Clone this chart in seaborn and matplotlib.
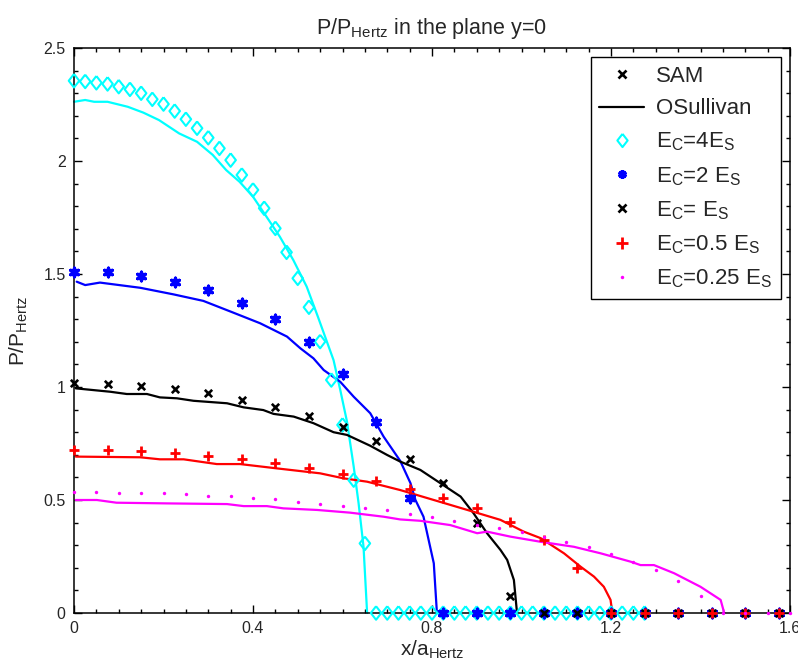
import numpy as np
import pandas as pd
import matplotlib
matplotlib.use("Agg")
import matplotlib.pyplot as plt
import seaborn as sns
from matplotlib.lines import Line2D
from matplotlib.ticker import MultipleLocator

# ---------------- data ----------------
# SAM results (markers)
sam_x_4 = [round(0.025 * i, 3) for i in range(52)]          # 0 .. 1.275
sam_y_4 = [2.355, 2.352, 2.346, 2.341, 2.329, 2.317, 2.300, 2.273, 2.252, 2.221,
           2.185, 2.145, 2.103, 2.056, 2.004, 1.938, 1.872, 1.791, 1.702, 1.596,
           1.481, 1.353, 1.201, 1.031, 0.832, 0.588, 0.308] + [0.0] * 25

sam_x_075 = [round(0.075 * i, 3) for i in range(22)]        # 0 .. 1.575
sam_y_2 = [1.510, 1.507, 1.491, 1.466, 1.429, 1.373, 1.300, 1.201, 1.058, 0.844,
           0.509] + [0.0] * 11
sam_y_1 = [1.016, 1.013, 1.004, 0.990, 0.972, 0.942, 0.913, 0.872, 0.822, 0.761,
           0.681, 0.575, 0.400, 0.075] + [0.0] * 8
sam_y_05 = [0.721, 0.721, 0.717, 0.707, 0.695, 0.680, 0.662, 0.643, 0.614, 0.584,
            0.548, 0.510, 0.463, 0.401, 0.323, 0.198] + [0.0] * 6

sam_x_025 = [round(0.05 * i, 3) for i in range(33)]         # 0 .. 1.6
sam_y_025 = [0.537, 0.534, 0.532, 0.532, 0.530, 0.525, 0.519, 0.518, 0.510, 0.503,
             0.493, 0.482, 0.475, 0.463, 0.456, 0.437, 0.423, 0.407, 0.389, 0.375,
             0.357, 0.338, 0.313, 0.291, 0.262, 0.227, 0.190, 0.142, 0.075,
             0.0, 0.0, 0.0, 0.0]

# O'Sullivan solution (lines)
os_x_4 = [0.0, 0.025, 0.045, 0.075, 0.12, 0.155, 0.19, 0.235, 0.275, 0.31, 0.34, 0.37,
          0.40, 0.43, 0.46, 0.49, 0.52, 0.545, 0.58, 0.595, 0.61, 0.625, 0.636, 0.647,
          0.651, 0.655]
os_y_4 = [2.262, 2.270, 2.262, 2.262, 2.240, 2.214, 2.181, 2.122, 2.085, 2.027, 1.960,
          1.908, 1.842, 1.754, 1.665, 1.562, 1.444, 1.311, 1.119, 0.987, 0.847, 0.648,
          0.485, 0.293, 0.146, 0.0]

os_x_2 = [0.006, 0.025, 0.058, 0.148, 0.222, 0.289, 0.356, 0.416, 0.476, 0.506, 0.535,
          0.558, 0.595, 0.625, 0.662, 0.692, 0.729, 0.752, 0.763, 0.781, 0.804, 0.811]
os_y_2 = [1.466, 1.451, 1.462, 1.439, 1.410, 1.381, 1.329, 1.282, 1.223, 1.171, 1.127,
          1.075, 1.023, 0.957, 0.884, 0.780, 0.673, 0.574, 0.50, 0.426, 0.220, 0.0]

os_x_1 = [0.004, 0.081, 0.118, 0.163, 0.192, 0.230, 0.267, 0.342, 0.379, 0.423, 0.446,
          0.491, 0.535, 0.580, 0.610, 0.662, 0.700, 0.729, 0.774, 0.819, 0.864, 0.893,
          0.923, 0.953, 0.968, 0.983, 0.990]
os_y_1 = [0.994, 0.979, 0.969, 0.969, 0.954, 0.950, 0.939, 0.928, 0.910, 0.898, 0.881,
          0.869, 0.840, 0.800, 0.788, 0.740, 0.699, 0.670, 0.633, 0.574, 0.515, 0.441,
          0.353, 0.279, 0.235, 0.146, 0.0]

os_x_05 = [0.004, 0.148, 0.192, 0.245, 0.319, 0.371, 0.453, 0.550, 0.602, 0.655, 0.729,
           0.804, 0.879, 0.953, 1.005, 1.043, 1.095, 1.132, 1.162, 1.184, 1.199, 1.203]
os_y_05 = [0.692, 0.689, 0.680, 0.680, 0.659, 0.659, 0.640, 0.618, 0.596, 0.581, 0.544,
           0.500, 0.456, 0.412, 0.360, 0.331, 0.264, 0.205, 0.161, 0.116, 0.058, 0.0]

os_x_025 = [0.004, 0.051, 0.095, 0.207, 0.342, 0.379, 0.431, 0.468, 0.543, 0.617, 0.692,
            0.729, 0.774, 0.841, 0.901, 0.923, 0.975, 1.043, 1.117, 1.177, 1.244, 1.266,
            1.296, 1.341, 1.400, 1.445, 1.453]
os_y_025 = [0.500, 0.500, 0.488, 0.485, 0.482, 0.473, 0.473, 0.463, 0.456, 0.444, 0.426,
            0.414, 0.408, 0.389, 0.353, 0.360, 0.338, 0.315, 0.293, 0.264, 0.227, 0.212,
            0.212, 0.176, 0.116, 0.058, 0.0]

labels = [r"$\mathregular{E_C}$=4E$_\mathregular{S}$",
          r"$\mathregular{E_C}$=2 E$_\mathregular{S}$",
          r"$\mathregular{E_C}$= E$_\mathregular{S}$",
          r"$\mathregular{E_C}$=0.5 E$_\mathregular{S}$",
          r"$\mathregular{E_C}$=0.25 E$_\mathregular{S}$"]
colors = ["#00FFFF", "#0000FF", "#000000", "#FF0000", "#FF00FF"]

# ---------------- style ----------------
sns.set_style("white")
plt.rcParams["font.family"] = ["Liberation Sans", "DejaVu Sans"]
plt.rcParams["mathtext.fontset"] = "custom"
plt.rcParams["mathtext.rm"] = "Liberation Sans"
plt.rcParams["mathtext.it"] = "Liberation Sans:italic"
plt.rcParams["mathtext.bf"] = "Liberation Sans:bold"

fig = plt.figure(figsize=(7.98, 6.66), dpi=100)
ax = fig.add_axes([74 / 798, 1 - 613 / 666, (790 - 74) / 798, (613 - 48) / 666])

diamond = [(0, 1), (0.78, 0), (0, -1), (-0.78, 0), (0, 1)]
asterisk = (6, 2, 0)

# lines
line_sets = [(os_x_4, os_y_4), (os_x_2, os_y_2), (os_x_1, os_y_1),
             (os_x_05, os_y_05), (os_x_025, os_y_025)]
for (lx, ly), c in zip(line_sets, colors):
    df = pd.DataFrame({"x": lx, "y": ly})
    sns.lineplot(data=df, x="x", y="y", sort=False, color=c, linewidth=1.6,
                 ax=ax, zorder=2, clip_on=False)

# markers
df4 = pd.DataFrame({"x": sam_x_4, "y": sam_y_4})
sns.scatterplot(data=df4, x="x", y="y", marker=diamond, s=95, color=colors[0],
                facecolor="none", edgecolor=colors[0], linewidth=1.5, ax=ax,
                zorder=3, clip_on=False)
df2 = pd.DataFrame({"x": sam_x_075, "y": sam_y_2})
sns.scatterplot(data=df2, x="x", y="y", marker=asterisk, s=38, color=colors[1],
                edgecolor=colors[1], linewidth=2.4, ax=ax, zorder=4, clip_on=False)
df1 = pd.DataFrame({"x": sam_x_075, "y": sam_y_1})
sns.scatterplot(data=df1, x="x", y="y", marker="x", s=28, color=colors[2],
                linewidth=1.9, ax=ax, zorder=5, clip_on=False)
df05 = pd.DataFrame({"x": sam_x_075, "y": sam_y_05})
sns.scatterplot(data=df05, x="x", y="y", marker="+", s=60, color=colors[3],
                linewidth=2.0, ax=ax, zorder=6, clip_on=False)
df025 = pd.DataFrame({"x": sam_x_025, "y": sam_y_025})
sns.scatterplot(data=df025, x="x", y="y", marker="o", s=6, color=colors[4],
                edgecolor=colors[4], linewidth=0, ax=ax, zorder=7, clip_on=False)

# axes
ax.set_xlim(0, 1.6)
ax.set_ylim(0, 2.5)
ax.set_xticks([0, 0.4, 0.8, 1.2, 1.6])
ax.set_xticklabels(["0", "0.4", "0.8", "1.2", "1.6"])
ax.set_yticks([0, 0.5, 1, 1.5, 2, 2.5])
ax.set_yticklabels(["0", "0.5", "1", "1.5", "2", "2.5"])
ax.xaxis.set_minor_locator(MultipleLocator(0.05))
ax.yaxis.set_minor_locator(MultipleLocator(0.1))
ax.tick_params(which="both", direction="in", top=True, right=True, bottom=True,
               left=True, width=1, color="black", labelsize=11.5, pad=6)
ax.tick_params(which="major", length=6)
ax.tick_params(which="minor", length=3)
for sp in ax.spines.values():
    sp.set_visible(True)
    sp.set_color("black")
    sp.set_linewidth(1.1)
    sp.set_zorder(2.5)

ax.set_xlabel(r"x/a$_\mathregular{Hertz}$", fontsize=15, labelpad=2)
ax.set_ylabel(r"P/P$_\mathregular{Hertz}$", fontsize=15, labelpad=10)
ax.set_title(r"P/P$_\mathregular{Hertz}$ in the plane y=0", fontsize=15.5, pad=10)

# legend
handles = [
    Line2D([], [], linestyle="none", marker="x", color="black", markersize=5.5,
           markeredgewidth=1.9),
    Line2D([], [], color="black", linewidth=1.6),
    Line2D([], [], linestyle="none", marker=diamond, markerfacecolor="none",
           markeredgecolor=colors[0], markersize=9.5, markeredgewidth=1.5),
    Line2D([], [], linestyle="none", marker=asterisk, color=colors[1],
           markersize=6.2, markeredgewidth=2.4),
    Line2D([], [], linestyle="none", marker="x", color=colors[2], markersize=5.5,
           markeredgewidth=1.9),
    Line2D([], [], linestyle="none", marker="+", color=colors[3], markersize=8,
           markeredgewidth=2.0),
    Line2D([], [], linestyle="none", marker="o", color=colors[4], markersize=2.5,
           markeredgewidth=0),
]
leg_labels = ["SAM", "OSullivan"] + labels
leg = ax.legend(handles, leg_labels, loc="upper right", fontsize=16,
                frameon=True, fancybox=False, framealpha=1, edgecolor="black",
                handlelength=2.0, handletextpad=0.55, borderpad=0.4,
                labelspacing=0.52, borderaxespad=0.4)
leg.get_frame().set_linewidth(1.0)
leg.set_zorder(10)

fig.savefig("out.png", dpi=100)
